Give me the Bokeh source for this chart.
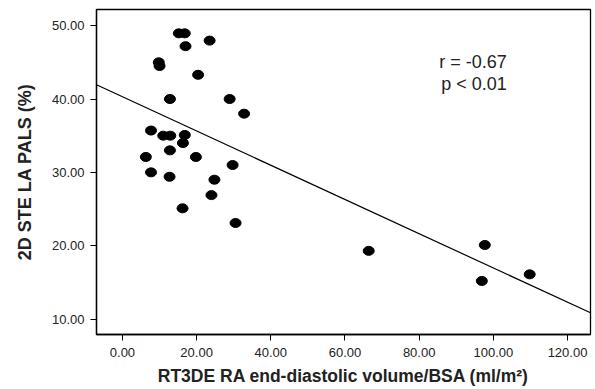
from bokeh.plotting import figure
from bokeh.models import FixedTicker, NumeralTickFormatter, Range1d, Label
from bokeh.embed import file_html
from bokeh.resources import INLINE

# Data
ra_volume = [15.2, 16.8, 17.0, 23.5, 9.8, 10.0, 20.4, 12.8, 28.9, 32.8,
             7.7, 11.0, 12.9, 16.8, 16.3, 12.8, 6.3, 19.8, 29.7, 7.7,
             12.7, 24.8, 24.0, 16.2, 30.5, 66.4, 97.7, 96.9, 109.8]
pals = [48.95, 48.95, 47.2, 47.96, 45.0, 44.5, 43.3, 40.0, 40.0, 38.0,
        35.7, 35.0, 35.0, 35.1, 34.0, 33.0, 32.1, 32.1, 31.0, 30.0,
        29.4, 29.0, 26.9, 25.1, 23.1, 19.3, 20.1, 15.2, 16.1]
fit_intercept = 40.3
fit_slope = -0.2333
x_ticks = [0, 20, 40, 60, 80, 100, 120]
y_ticks = [10, 20, 30, 40, 50]
x_lo, x_hi = -7.0, 126.2
y_lo, y_hi = 7.9, 52.2
stats_lines = ["r = -0.67", "p < 0.01"]
stats_x = 103.6
stats_y = [45.0, 42.07]

FONT = "Liberation Sans"

p = figure(width=595, height=389, output_backend="svg", toolbar_location=None,
           x_range=Range1d(x_lo, x_hi), y_range=Range1d(y_lo, y_hi),
           min_border_left=96, min_border_right=5, min_border_top=9, min_border_bottom=55)
p.grid.visible = False
p.outline_line_color = "black"
p.outline_line_width = 1.3

line_x = [x_lo, x_hi]
line_y = [fit_intercept + fit_slope * v for v in line_x]
p.line(line_x, line_y, line_color="black", line_width=1.2)

p.ellipse(ra_volume, pals, width=11, height=9, width_units="screen", height_units="screen",
          fill_color="black", line_color="black")

p.xaxis.ticker = FixedTicker(ticks=x_ticks)
p.yaxis.ticker = FixedTicker(ticks=y_ticks)
p.xaxis.formatter = NumeralTickFormatter(format="0.00")
p.yaxis.formatter = NumeralTickFormatter(format="0.00")
for ax in (p.xaxis[0], p.yaxis[0]):
    ax.major_label_text_font = FONT
    ax.major_label_text_font_size = "13px"
    ax.major_label_text_color = "#222222"
    ax.axis_label_text_font = FONT
    ax.axis_label_text_font_style = "bold"
    ax.axis_label_text_color = "#222222"
    ax.minor_tick_line_color = None
    ax.major_tick_out = 6
    ax.major_tick_in = 0
    ax.axis_line_color = "black"
    ax.axis_line_width = 1.3
    ax.major_tick_line_color = "black"

p.xaxis.axis_label = "RT3DE RA end-diastolic volume/BSA (ml/m²)"
p.yaxis.axis_label = "2D STE LA PALS (%)"
p.xaxis.axis_label_text_font_size = "17.5px"
p.yaxis.axis_label_text_font_size = "18px"
p.xaxis.major_label_standoff = 7
p.xaxis.axis_label_standoff = 6
p.yaxis.major_label_standoff = 6
p.yaxis.axis_label_standoff = 14

for txt, yy in zip(stats_lines, stats_y):
    p.add_layout(Label(x=stats_x, y=yy, text=txt, text_align="right", text_baseline="middle",
                       text_font=FONT, text_font_size="18px", text_color="#222222"))

open("out.html", "w").write(file_html(p, INLINE))
